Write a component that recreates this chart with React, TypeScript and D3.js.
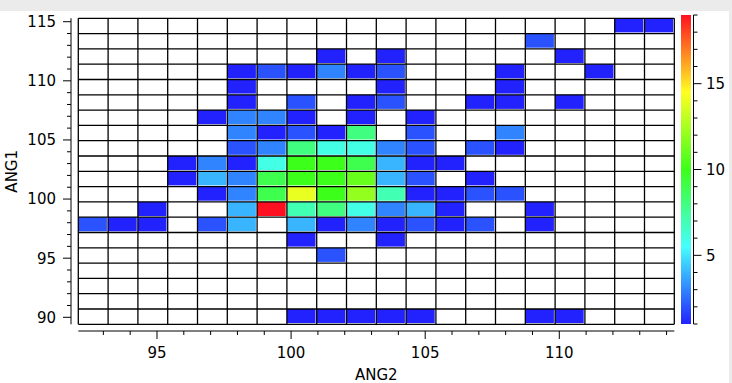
import React from 'react';
import * as d3 from 'd3';

// ---- data ----
const ang2Domain = [92.066, 114.288]; // x bin range (ANG2)
const ang1Domain = [89.408, 115.288]; // y bin range (ANG1)
const nBinsX = 20;
const nBinsY = 20;
// counts: rows from top (high ANG1) to bottom (low ANG1), columns left->right (ANG2)
const counts: number[][] = [
  [0,0,0,0,0,0,0,0,0,0,0,0,0,0,0,0,0,0,1,1],
  [0,0,0,0,0,0,0,0,0,0,0,0,0,0,0,2,0,0,0,0],
  [0,0,0,0,0,0,0,0,1,0,1,0,0,0,0,0,1,0,0,0],
  [0,0,0,0,0,1,2,1,3,1,2,0,0,0,1,0,0,1,0,0],
  [0,0,0,0,0,1,0,0,0,0,1,0,0,0,1,0,0,0,0,0],
  [0,0,0,0,0,1,0,2,0,1,2,0,0,1,1,0,1,0,0,0],
  [0,0,0,0,1,3,3,1,0,1,0,1,0,0,0,0,0,0,0,0],
  [0,0,0,0,0,3,1,2,1,8,0,2,0,0,3,0,0,0,0,0],
  [0,0,0,0,0,2,3,8,6,6,3,2,0,2,1,0,0,0,0,0],
  [0,0,0,1,3,1,6,10,10,9,4,1,1,0,0,0,0,0,0,0],
  [0,0,0,1,4,3,9,10,10,11,4,2,0,1,0,0,0,0,0,0],
  [0,0,0,0,1,3,9,14,10,12,7,1,1,2,2,0,0,0,0,0],
  [0,0,1,0,0,4,19,7,8,6,3,4,1,0,0,1,0,0,0,0],
  [2,1,1,0,2,4,0,4,1,3,1,2,1,2,0,1,0,0,0,0],
  [0,0,0,0,0,0,0,1,0,0,1,0,0,0,0,0,0,0,0,0],
  [0,0,0,0,0,0,0,0,2,0,0,0,0,0,0,0,0,0,0,0],
  [0,0,0,0,0,0,0,0,0,0,0,0,0,0,0,0,0,0,0,0],
  [0,0,0,0,0,0,0,0,0,0,0,0,0,0,0,0,0,0,0,0],
  [0,0,0,0,0,0,0,0,0,0,0,0,0,0,0,0,0,0,0,0],
  [0,0,0,0,0,0,0,1,1,1,1,1,0,0,0,1,1,0,0,0],
];
const xTickLabels = [95, 100, 105, 110];
const yTickLabels = [90, 95, 100, 105, 110, 115];
const cbTickLabels = [5, 10, 15];
const cbDomain = [1, 19];
const cmapStops = [1, 5.5, 10, 14.5, 19];
const cmapColors = ['#2222ff', '#44ffff', '#3cff1a', '#ffff22', '#ff1020'];

// ---- layout ----
const W = 732, H = 383;
const plot = { left: 78.3, right: 674.3, top: 18.3, bottom: 324.3 };
const cb = { left: 681, right: 691, top: 15, bottom: 324 };
const FONT = '"DejaVu Sans", Verdana, sans-serif';

export default function App() {
  const x = d3.scaleLinear().domain(ang2Domain).range([plot.left, plot.right]);
  const y = d3.scaleLinear().domain(ang1Domain).range([plot.bottom, plot.top]);
  const color = d3.scaleLinear<string>().domain(cmapStops).range(cmapColors).interpolate(d3.interpolateRgb).clamp(true);
  const cbY = d3.scaleLinear().domain(cbDomain).range([cb.bottom, cb.top]);

  const dx = (ang2Domain[1] - ang2Domain[0]) / nBinsX;
  const dy = (ang1Domain[1] - ang1Domain[0]) / nBinsY;
  const xEdges = d3.range(nBinsX + 1).map(i => ang2Domain[0] + i * dx);
  const yEdges = d3.range(nBinsY + 1).map(j => ang1Domain[1] - j * dy); // top -> bottom

  const cells: JSX.Element[] = [];
  counts.forEach((row, j) => {
    row.forEach((v, i) => {
      if (!v) return;
      const x0 = x(xEdges[i]), x1 = x(xEdges[i + 1]);
      const y0 = y(yEdges[j]), y1 = y(yEdges[j + 1]);
      cells.push(
        <rect key={`c${i}-${j}`} x={x0} y={y0} width={x1 - x0 - 1.2} height={y1 - y0 - 1.2} fill={color(v)} />
      );
    });
  });

  const xMinor = d3.range(Math.ceil(ang2Domain[0]), Math.floor(ang2Domain[1]) + 1);
  const yMinor = d3.range(Math.ceil(ang1Domain[0]), Math.floor(ang1Domain[1]) + 1);
  const cbMinor = d3.range(cbDomain[0], cbDomain[1] + 1);
  const gradStops = d3.range(0, 1.0001, 0.05);

  const yAxisX = 71;
  const xAxisY = 331;
  const cbAxisX = 693.5;

  return (
    <svg width={W} height={H} style={{ position: 'absolute', left: 0, top: 0, background: '#fff' }} fontFamily={FONT}>
      <defs>
        <linearGradient id="cbgrad" x1="0" y1="1" x2="0" y2="0">
          {gradStops.map(t => (
            <stop key={t} offset={t} stopColor={color(cbDomain[0] + t * (cbDomain[1] - cbDomain[0]))} />
          ))}
        </linearGradient>
      </defs>
      <rect x={0} y={0} width={W} height={H} fill="#fff" />
      <rect x={0} y={0} width={W} height={11} fill="#ebebeb" />
      <rect x={729} y={0} width={3} height={H} fill="#ebebeb" />

      {cells}

      {/* grid lines */}
      <g stroke="#000" strokeWidth={1.3}>
        {xEdges.map((e, i) => (
          <line key={`gv${i}`} x1={x(e)} x2={x(e)} y1={plot.top} y2={plot.bottom} />
        ))}
        {yEdges.map((e, j) => (
          <line key={`gh${j}`} x1={plot.left} x2={plot.right} y1={y(e)} y2={y(e)} />
        ))}
      </g>

      {/* y axis */}
      <g stroke="#000" strokeWidth={1}>
        <line x1={yAxisX} x2={yAxisX} y1={plot.top} y2={plot.bottom} />
        {yMinor.map(v => (
          <line key={`ym${v}`} x1={yAxisX} x2={yAxisX - (yTickLabels.includes(v) ? 8 : 4)} y1={y(v)} y2={y(v)} />
        ))}
      </g>
      {yTickLabels.map(v => (
        <text key={`yl${v}`} x={56} y={y(v)} dy="0.36em" textAnchor="end" fontSize={15} fill="#000">{v}</text>
      ))}
      <text transform={`translate(17,${(plot.top + plot.bottom) / 2}) rotate(-90)`} textAnchor="middle" fontSize={15} fill="#000">ANG1</text>

      {/* x axis */}
      <g stroke="#000" strokeWidth={1}>
        <line x1={plot.left} x2={plot.right} y1={xAxisY} y2={xAxisY} />
        {xMinor.map(v => (
          <line key={`xm${v}`} x1={x(v)} x2={x(v)} y1={xAxisY} y2={xAxisY + (xTickLabels.includes(v) ? 8 : 4)} />
        ))}
      </g>
      {xTickLabels.map(v => (
        <text key={`xl${v}`} x={x(v)} y={358} textAnchor="middle" fontSize={15} fill="#000">{v}</text>
      ))}
      <text x={(plot.left + plot.right) / 2} y={380} textAnchor="middle" fontSize={15} fill="#000">ANG2</text>

      {/* colorbar */}
      <rect x={cb.left} y={cb.top} width={cb.right - cb.left} height={cb.bottom - cb.top} fill="url(#cbgrad)" />
      <g stroke="#000" strokeWidth={1}>
        <line x1={cbAxisX} x2={cbAxisX} y1={cb.top} y2={cb.bottom} />
        {cbMinor.map(v => (
          <line key={`cm${v}`} x1={cbAxisX} x2={cbAxisX + (cbTickLabels.includes(v) ? 8 : 4)} y1={cbY(v)} y2={cbY(v)} />
        ))}
      </g>
      {cbTickLabels.map(v => (
        <text key={`cl${v}`} x={706} y={cbY(v)} dy="0.36em" textAnchor="start" fontSize={15} fill="#000">{v}</text>
      ))}
    </svg>
  );
}
